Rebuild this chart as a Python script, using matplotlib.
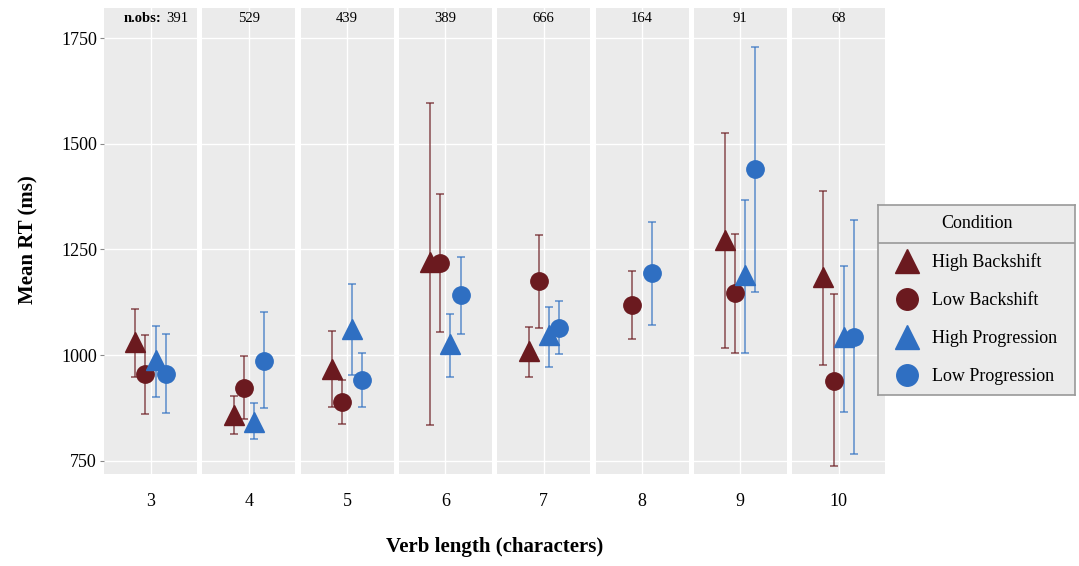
import matplotlib
matplotlib.use("Agg")
import matplotlib.pyplot as plt
from matplotlib.lines import Line2D

plt.rcParams['font.family'] = ['Liberation Serif', 'DejaVu Serif']

# verb lengths (facets) and number of observations per facet
lengths = [3, 4, 5, 6, 7, 8, 9, 10]
n_obs = [391, 529, 439, 389, 666, 164, 91, 68]

conditions = ['High Backshift', 'Low Backshift', 'High Progression', 'Low Progression']

# mean RT and error-bar bounds per condition (None = no data)
hb_mean = [1032, 859, 968, 1221, 1011, None, 1273, 1186]
hb_low = [949, 813, 877, 836, 949, None, 1016, 976]
hb_high = [1110, 904, 1056, 1597, 1066, None, 1526, 1388]

lb_mean = [955, 923, 890, 1217, 1175, 1119, 1146, 940]
lb_low = [862, 850, 838, 1054, 1064, 1038, 1006, 737]
lb_high = [1047, 999, 942, 1381, 1285, 1199, 1286, 1145]

hp_mean = [989, 843, 1062, 1026, 1048, None, 1190, 1042]
hp_low = [902, 801, 953, 949, 973, None, 1004, 866]
hp_high = [1070, 886, 1168, 1097, 1115, None, 1366, 1211]

lp_mean = [956, 986, 942, 1142, 1065, 1194, 1440, 1042]
lp_low = [863, 874, 878, 1050, 1002, 1071, 1150, 767]
lp_high = [1050, 1101, 1004, 1233, 1127, 1316, 1729, 1319]

series = [
    (hb_mean, hb_low, hb_high, '^', '#6b1a1f'),
    (lb_mean, lb_low, lb_high, 'o', '#6b1a1f'),
    (hp_mean, hp_low, hp_high, '^', '#2f6fc2'),
    (lp_mean, lp_low, lp_high, 'o', '#2f6fc2'),
]

W, H = 1079, 566
fig = plt.figure(figsize=(W / 100, H / 100), dpi=100)

panel_left, panel_w, pitch = 104, 93, 98.3
top_px, bot_px = 8, 474
dodge = 0.52  # total dodge width in x data units

axes = []
for i, L in enumerate(lengths):
    left = (panel_left + i * pitch) / W
    ax = fig.add_axes([left, (H - bot_px) / H, panel_w / W, (bot_px - top_px) / H])
    ax.set_facecolor('#ebebeb')
    for s in ax.spines.values():
        s.set_visible(False)
    ax.set_xlim(-0.6, 0.6)
    ax.set_ylim(719, 1821)
    ax.set_yticks([750, 1000, 1250, 1500, 1750])
    ax.set_xticks([0])
    ax.set_xticklabels([str(L)], fontsize=13)
    ax.grid(True, color='white', linewidth=1.0)
    ax.set_axisbelow(True)
    ax.tick_params(axis='x', length=0, pad=14)
    if i == 0:
        ax.tick_params(axis='y', length=3, color='#888888', labelsize=13, pad=2)
    else:
        ax.tick_params(axis='y', length=0, labelleft=False)

    present = [k for k, s in enumerate(series) if s[0][i] is not None]
    n = len(present)
    for j, k in enumerate(present):
        mean, lo, hi, mk, col = series[k]
        x = -dodge / 2 + dodge / n * (j + 0.5)
        ax.errorbar([x], [mean[i]], yerr=[[mean[i] - lo[i]], [hi[i] - mean[i]]],
                    fmt='none', ecolor=col, alpha=0.65, elinewidth=1.3,
                    capsize=3, capthick=1.3, zorder=2)
        ax.plot([x], [mean[i]], marker=mk, color=col,
                markersize=14.5 if mk == '^' else 12.5, linestyle='none', zorder=3)

    if i == 0:
        t = ax.text(0.62, 0.978, 'n.obs:', transform=ax.transAxes, ha='right',
                    va='center', fontsize=10.5, fontweight='bold')
        ax.annotate(str(n_obs[i]), xy=(1, 0.5), xycoords=t, xytext=(3, 0),
                    textcoords='offset points', ha='left', va='center', fontsize=10.5)
    else:
        ax.text(0.5, 0.978, str(n_obs[i]), transform=ax.transAxes, ha='center',
                va='center', fontsize=10.5)
    axes.append(ax)

fig.text(28 / W, 1 - 240 / H, 'Mean RT (ms)', rotation=90, ha='center', va='center',
         fontsize=15, fontweight='bold')
fig.text(495 / W, 1 - 547 / H, 'Verb length (characters)', ha='center', va='center',
         fontsize=15, fontweight='bold')

# legend box
lx0, lx1, ly0, ly1 = 878, 1075, 205, 395
lh = ly1 - ly0
lax = fig.add_axes([lx0 / W, (H - ly1) / H, (lx1 - lx0) / W, lh / H])
lax.set_facecolor('#ebebeb')
lax.set_xticks([])
lax.set_yticks([])
for s in lax.spines.values():
    s.set_color('#999999')
    s.set_linewidth(1.2)
lax.set_xlim(0, 1)
lax.set_ylim(0, 1)
lax.text(0.5, 1 - 19 / lh, 'Condition', ha='center', va='center', fontsize=13)
lax.axhline(1 - 38 / lh, color='#999999', linewidth=1.2)
handles = [Line2D([], [], marker=s[3], color=s[4], linestyle='none',
                  markersize=17 if s[3] == '^' else 15.5) for s in series]
lax.legend(handles, conditions, loc='upper left', bbox_to_anchor=(0.035, 1 - 41 / lh),
           frameon=False, fontsize=13, handletextpad=0.6, labelspacing=1.17,
           borderaxespad=0, handlelength=1.6)

fig.savefig('out.png', dpi=100)
